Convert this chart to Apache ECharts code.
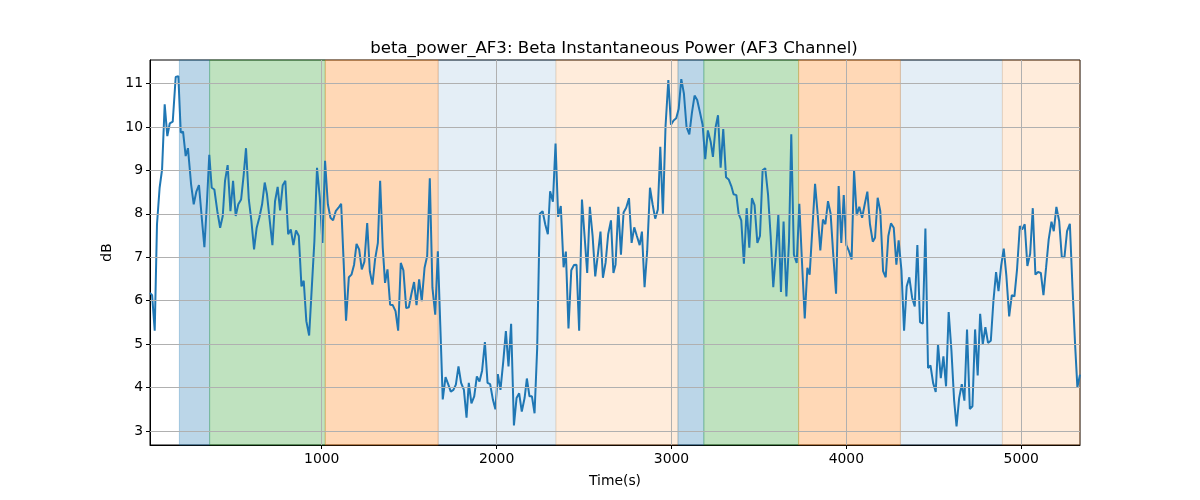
<!DOCTYPE html>
<html>
<head>
<meta charset="utf-8">
<title>beta_power_AF3</title>
<script src="https://cdn.jsdelivr.net/npm/echarts@6/dist/echarts.min.js"></script>
<style>
  html, body { margin: 0; padding: 0; background: #fff; }
  #chart { width: 1200px; height: 500px; }
</style>
</head>
<body>
<div id="chart"></div>
<script>
// time stamps (s) and beta power (dB)
const timeSec = [
  18, 30, 45, 58, 73, 87, 102, 117, 131, 148, 165, 180, 194, 207, 222, 235, 253, 268, 283, 298,
  314, 329, 344, 357, 371, 386, 403, 419, 434, 447, 462, 478, 493, 508, 523, 539, 554, 567, 583, 598,
  613, 628, 643, 659, 674, 687, 703, 718, 733, 748, 762, 777, 792, 808, 823, 838, 853, 869, 884, 897,
  912, 928, 943, 958, 973, 989, 1004, 1019, 1035, 1050, 1065, 1080, 1096, 1111, 1126, 1139, 1155, 1170, 1185, 1199,
  1214, 1229, 1244, 1260, 1275, 1290, 1305, 1321, 1334, 1349, 1362, 1376, 1391, 1406, 1422, 1437, 1452, 1467, 1483, 1498,
  1513, 1528, 1542, 1557, 1572, 1588, 1603, 1618, 1633, 1649, 1664, 1678, 1692, 1708, 1723, 1738, 1753, 1767, 1782, 1797,
  1813, 1828, 1841, 1856, 1872, 1887, 1902, 1917, 1933, 1948, 1963, 1979, 1993, 2007, 2022, 2038, 2053, 2068, 2083, 2099,
  2114, 2129, 2144, 2160, 2173, 2188, 2202, 2217, 2232, 2247, 2263, 2278, 2293, 2306, 2322, 2337, 2352, 2367, 2383, 2396,
  2411, 2427, 2442, 2457, 2472, 2488, 2503, 2518, 2533, 2549, 2564, 2579, 2594, 2608, 2623, 2638, 2654, 2668, 2680, 2696,
  2711, 2726, 2741, 2757, 2772, 2787, 2802, 2818, 2831, 2846, 2861, 2877, 2892, 2907, 2922, 2936, 2951, 2966, 2982, 2997,
  3012, 3027, 3041, 3056, 3071, 3086, 3102, 3117, 3132, 3147, 3163, 3178, 3193, 3208, 3224, 3237, 3252, 3266, 3281, 3296,
  3312, 3327, 3342, 3355, 3371, 3384, 3399, 3414, 3430, 3445, 3460, 3475, 3491, 3506, 3521, 3536, 3552, 3567, 3582, 3597,
  3611, 3626, 3641, 3657, 3672, 3685, 3700, 3716, 3731, 3746, 3762, 3777, 3790, 3805, 3821, 3836, 3851, 3866, 3880, 3895,
  3910, 3925, 3941, 3956, 3971, 3985, 4000, 4015, 4030, 4044, 4059, 4074, 4090, 4105, 4120, 4135, 4151, 4164, 4179, 4194,
  4210, 4225, 4240, 4255, 4271, 4286, 4299, 4315, 4330, 4345, 4360, 4376, 4391, 4406, 4421, 4437, 4452, 4467, 4481, 4496,
  4511, 4524, 4540, 4555, 4570, 4585, 4601, 4616, 4630, 4645, 4660, 4675, 4690, 4706, 4721, 4736, 4751, 4765, 4780, 4795,
  4810, 4826, 4841, 4856, 4870, 4885, 4900, 4915, 4931, 4946, 4961, 4976, 4992, 5005, 5020, 5035, 5051, 5066, 5081, 5096,
  5112, 5127, 5142, 5157, 5173, 5186, 5201, 5217, 5232, 5247, 5262, 5278, 5293, 5308, 5321, 5336
];

const betaDb = [
  6.18, 6.13, 5.31, 7.76, 8.60, 9.02, 10.52, 9.79, 10.08, 10.12, 11.15, 11.17, 9.87, 9.89, 9.33, 9.51, 8.68, 8.22, 8.51, 8.66,
  7.91, 7.23, 8.29, 9.36, 8.60, 8.56, 8.06, 7.68, 7.95, 8.76, 9.12, 8.06, 8.76, 7.95, 8.22, 8.33, 8.91, 9.51, 8.33, 7.83,
  7.18, 7.68, 7.91, 8.22, 8.72, 8.45, 7.83, 7.28, 8.29, 8.62, 8.08, 8.66, 8.76, 7.53, 7.64, 7.28, 7.62, 7.49, 6.33, 6.46,
  5.53, 5.20, 6.29, 7.37, 9.06, 8.37, 7.33, 9.22, 8.22, 7.91, 7.85, 8.06, 8.14, 8.23, 6.83, 5.54, 6.54, 6.60, 6.83, 7.31,
  7.18, 6.72, 6.90, 7.79, 6.68, 6.37, 6.95, 7.33, 8.76, 7.22, 6.41, 6.72, 5.91, 5.90, 5.76, 5.31, 6.87, 6.70, 5.83, 5.85,
  6.16, 6.43, 5.90, 6.49, 5.99, 6.76, 7.03, 8.82, 6.30, 5.68, 7.14, 5.43, 3.73, 4.24, 4.08, 3.91, 3.95, 4.07, 4.49, 4.11,
  3.95, 3.31, 4.11, 3.64, 3.80, 4.26, 4.14, 4.39, 5.05, 4.11, 4.08, 3.72, 3.50, 4.31, 3.95, 4.60, 5.30, 4.49, 5.47, 3.13,
  3.76, 3.87, 3.45, 3.76, 4.21, 3.80, 3.80, 3.41, 4.91, 8.00, 8.06, 7.76, 7.53, 8.52, 8.28, 9.62, 7.93, 8.18, 6.77, 7.13,
  5.36, 6.70, 6.82, 6.83, 5.31, 8.33, 7.49, 6.64, 8.16, 7.49, 6.56, 7.06, 7.59, 6.53, 6.87, 7.53, 7.85, 6.64, 6.83, 8.16,
  7.06, 8.03, 8.14, 8.36, 7.33, 7.69, 7.49, 7.28, 7.59, 6.31, 7.14, 8.60, 8.22, 7.89, 8.10, 9.54, 8.00, 10.02, 11.08, 10.05,
  10.15, 10.20, 10.41, 11.10, 10.77, 10.00, 9.83, 10.33, 10.72, 10.62, 10.33, 10.05, 9.26, 9.92, 9.66, 9.31, 9.99, 10.27, 9.06, 9.95,
  8.84, 8.79, 8.64, 8.45, 8.43, 8.00, 7.85, 6.85, 8.13, 7.22, 8.36, 8.20, 7.33, 7.49, 9.00, 9.05, 8.45, 7.49, 6.31, 7.08,
  7.99, 6.20, 7.82, 6.10, 7.37, 9.83, 7.06, 6.87, 8.23, 6.91, 5.59, 6.76, 6.60, 7.62, 8.69, 7.99, 7.16, 7.87, 7.76, 8.29,
  8.00, 7.06, 6.16, 8.64, 7.33, 8.43, 7.28, 7.14, 6.95, 9.00, 7.97, 8.16, 7.91, 8.22, 8.51, 7.76, 7.36, 7.45, 8.37, 8.06,
  6.68, 6.54, 7.49, 7.78, 7.68, 6.83, 7.39, 6.70, 5.31, 6.33, 6.54, 6.07, 5.87, 7.28, 5.51, 5.47, 7.66, 4.45, 4.51, 4.11,
  3.90, 5.00, 4.22, 4.72, 4.03, 5.74, 4.84, 3.72, 3.11, 3.76, 4.08, 3.70, 5.34, 3.51, 3.57, 5.34, 4.28, 5.70, 5.00, 5.39,
  5.03, 5.08, 6.00, 6.66, 6.22, 6.80, 7.20, 6.57, 5.64, 6.13, 6.10, 6.72, 7.72, 7.64, 7.76, 6.80, 7.08, 8.13, 6.60, 6.66,
  6.64, 6.13, 6.76, 7.41, 7.82, 7.60, 8.16, 7.83, 7.00, 7.00, 7.60, 7.77, 6.31, 4.99, 4.01, 4.30
];

const xTicks = [1000, 2000, 3000, 4000, 5000];
const yTicks = [3, 4, 5, 6, 7, 8, 9, 10, 11];

// shaded segments (s)
const bandStart = [186, 359, 1020, 1666, 2339, 3037, 3185, 3727, 4309, 4892];
const bandEnd = [359, 1020, 1666, 2339, 3037, 3185, 3727, 4309, 4892, 5336];
const bandKind = ["blue", "green", "orange", "paleBlue", "paleOrange", "blue", "green", "orange", "paleBlue", "paleOrange"];

const bandColors = {
  blue: "rgba(31,119,180,0.3)",
  green: "rgba(44,160,44,0.3)",
  orange: "rgba(255,127,14,0.3)",
  paleBlue: "rgba(31,119,180,0.12)",
  paleOrange: "rgba(255,127,14,0.15)",
};

const lineColor = "#1f77b4";
const gridColor = "#b0b0b0";
const font = "DejaVu Sans";

const points = timeSec.map((t, i) => [t, betaDb[i]]);

const bandAreas = bandStart.map((s, i) => [
  {
    xAxis: s,
    itemStyle: { color: bandColors[bandKind[i]], borderColor: bandColors[bandKind[i]], borderWidth: 1 },
  },
  { xAxis: bandEnd[i] },
]);

const gridLines = [
  ...xTicks.map((v) => ({ xAxis: v })),
  ...yTicks.map((v) => ({ yAxis: v })),
];

const chart = echarts.init(document.getElementById("chart"), null, { renderer: "canvas" });

chart.setOption({
  animation: false,
  backgroundColor: "#fff",
  title: {
    text: "beta_power_AF3: Beta Instantaneous Power (AF3 Channel)",
    left: 609,
    top: 35,
    textAlign: "center",
    textStyle: { fontFamily: font, fontSize: 16.6, fontWeight: "normal", color: "#000" },
  },
  grid: {
    left: 150,
    right: 120,
    top: 60,
    bottom: 55,
    show: true,
    borderColor: "#000",
    borderWidth: 1,
    backgroundColor: "transparent",
  },
  xAxis: {
    type: "value",
    min: 18,
    max: 5336,
    name: "Time(s)",
    nameLocation: "middle",
    nameGap: 29,
    nameTextStyle: { fontFamily: font, fontSize: 13.9, color: "#000" },
    axisLine: { show: true, lineStyle: { color: "#000", width: 1 } },
    axisTick: { show: true, customValues: xTicks, length: 4, lineStyle: { color: "#000" } },
    axisLabel: {
      customValues: xTicks,
      formatter: (v) => String(v),
      margin: 7,
      fontFamily: font,
      fontSize: 13.9,
      color: "#000",
    },
    splitLine: { show: false },
  },
  yAxis: {
    type: "value",
    min: 2.68,
    max: 11.54,
    name: "dB",
    nameLocation: "middle",
    nameGap: 28,
    nameTextStyle: { fontFamily: font, fontSize: 13.9, color: "#000" },
    axisLine: { show: true, lineStyle: { color: "#000", width: 1 } },
    axisTick: { show: true, customValues: yTicks, length: 4, lineStyle: { color: "#000" } },
    axisLabel: {
      customValues: yTicks,
      formatter: (v) => String(v),
      margin: 7,
      fontFamily: font,
      fontSize: 13.9,
      color: "#000",
    },
    splitLine: { show: false },
  },
  series: [
    {
      name: "bands",
      type: "line",
      z: 1,
      data: points,
      showSymbol: false,
      lineStyle: { opacity: 0 },
      silent: true,
      markArea: { silent: true, data: bandAreas },
    },
    {
      name: "grid",
      type: "line",
      z: 2,
      data: points,
      showSymbol: false,
      lineStyle: { opacity: 0 },
      silent: true,
      markLine: {
        silent: true,
        symbol: ["none", "none"],
        label: { show: false },
        lineStyle: { color: gridColor, width: 1, type: "solid" },
        data: gridLines,
      },
    },
    {
      name: "beta_power_AF3",
      type: "line",
      z: 3,
      data: points,
      showSymbol: false,
      lineStyle: { color: lineColor, width: 2 },
      itemStyle: { color: lineColor },
    },
  ],
});
</script>
</body>
</html>
